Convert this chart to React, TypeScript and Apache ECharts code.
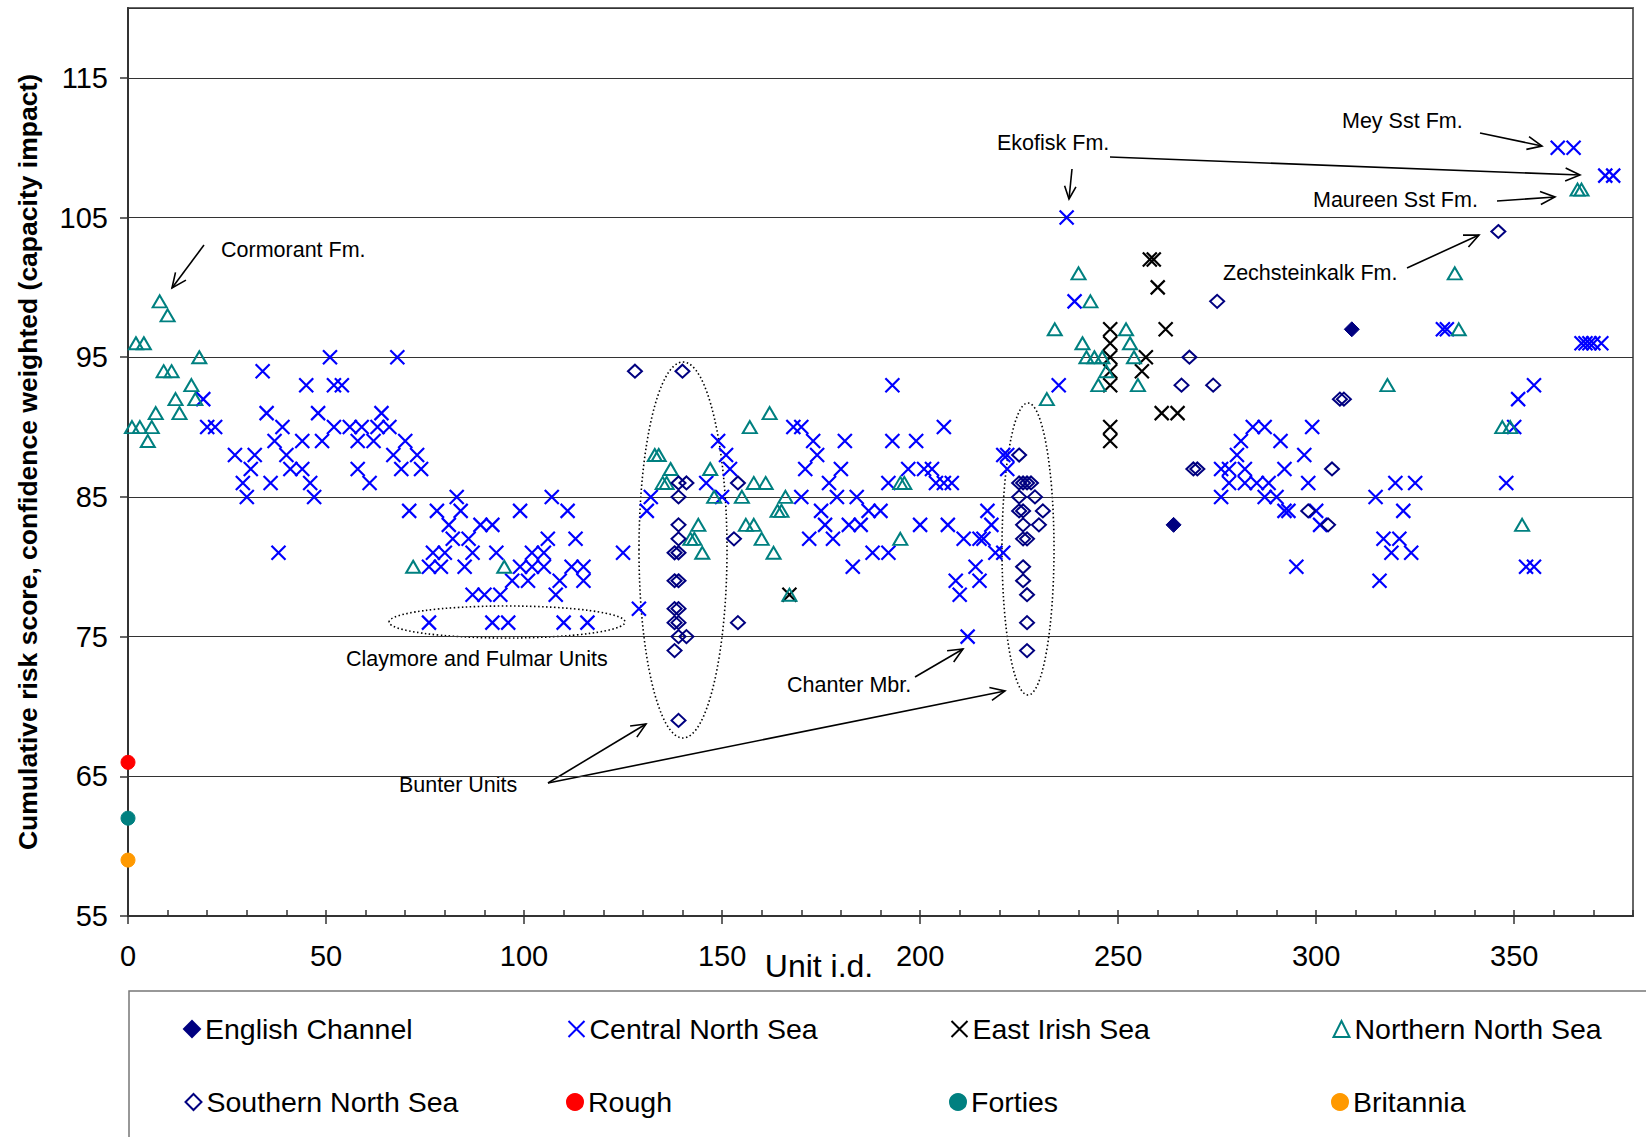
import React, { useEffect, useRef } from "react";
import * as echarts from "echarts";

const FONT = '"Liberation Sans", Arial, Helvetica, sans-serif';
const X_PATH = "path://M0,0L10,10M10,0L0,10";

// ---------- data: [unit id, cumulative risk score] ----------
const englishChannel: number[][] = [[264, 83], [309, 97]];

const centralNorthSea: number[][] = [
  [19, 92], [20, 90], [22, 90], [27, 88], [29, 86], [30, 85], [31, 87], [32, 88], [34, 94], [35, 91],
  [36, 86], [37, 89], [38, 81], [39, 90], [40, 88], [41, 87], [44, 89], [44, 87], [45, 93], [46, 86],
  [47, 85], [48, 91], [49, 89], [51, 95], [52, 93], [52, 90], [54, 93], [56, 90], [58, 89], [58, 87],
  [59, 90], [61, 86], [62, 89], [63, 90], [64, 91], [66, 90], [67, 88], [68, 95], [69, 87], [70, 89],
  [71, 84], [73, 88], [74, 87], [76, 80], [76, 76], [77, 81], [78, 84], [79, 80], [80, 81], [81, 83],
  [82, 82], [83, 85], [84, 84], [85, 80], [86, 82], [87, 81], [87, 78], [89, 83], [90, 78], [92, 83],
  [92, 76], [93, 81], [94, 78], [96, 76], [97, 79], [99, 84], [99, 80], [101, 79], [102, 81], [102, 80],
  [105, 81], [105, 80], [106, 82], [107, 85], [108, 78], [109, 79], [110, 76], [111, 84], [112, 80], [113, 82],
  [115, 80], [115, 79], [116, 76], [125, 81], [129, 77], [131, 84], [132, 85], [146, 86], [149, 89], [150, 85],
  [151, 88], [152, 87], [168, 90], [170, 90], [170, 85], [171, 87], [172, 82], [173, 89], [174, 88], [175, 84],
  [176, 83], [177, 86], [178, 82], [179, 85], [180, 87], [181, 89], [182, 83], [183, 80], [184, 85], [185, 83],
  [187, 84], [188, 81], [190, 84], [192, 86], [192, 81], [193, 93], [193, 89], [197, 87], [199, 89], [200, 83],
  [201, 87], [203, 87], [204, 86], [206, 90], [206, 86], [207, 83], [208, 86], [209, 79], [210, 78], [211, 82],
  [212, 75], [214, 80], [215, 82], [215, 79], [216, 82], [217, 84], [218, 83], [219, 81], [221, 88], [221, 81],
  [222, 88], [222, 87], [235, 93], [237, 105], [239, 99], [276, 85], [276, 87], [278, 86], [278, 87], [280, 88],
  [281, 89], [282, 87], [282, 86], [284, 90], [285, 86], [287, 90], [287, 85], [288, 86], [290, 85], [291, 89],
  [292, 87], [292, 84], [293, 84], [295, 80], [297, 88], [298, 86], [299, 90], [300, 84], [301, 83], [315, 85],
  [316, 79], [317, 82], [319, 81], [320, 86], [321, 82], [322, 84], [324, 81], [325, 86], [332, 97], [333, 97],
  [348, 86], [350, 90], [351, 92], [353, 80], [355, 80], [355, 93], [361, 110], [365, 110], [367, 96], [368, 96],
  [369, 96], [370, 96], [372, 96], [373, 108], [375, 108],
];

const eastIrishSea: number[][] = [
  [167, 78], [248, 89], [248, 90], [248, 93], [248, 94], [248, 95], [248, 96], [248, 97],
  [256, 94], [257, 95], [258, 102], [259, 102], [260, 100], [261, 91], [262, 97], [265, 91],
];

const northernNorthSea: number[][] = [
  [1, 90], [2, 96], [3, 90], [4, 96], [5, 89], [6, 90], [7, 91], [8, 99], [9, 94], [10, 98],
  [11, 94], [12, 92], [13, 91], [16, 93], [17, 92], [18, 95], [72, 80], [95, 80], [133, 88], [134, 88],
  [135, 86], [136, 86], [137, 87], [142, 82], [143, 82], [144, 83], [145, 81], [147, 87], [148, 85], [155, 85],
  [156, 83], [157, 90], [158, 86], [158, 83], [160, 82], [161, 86], [162, 91], [163, 81], [164, 84], [165, 84],
  [166, 85], [167, 78], [195, 86], [196, 86], [195, 82], [232, 92], [234, 97], [240, 101], [241, 96], [242, 95],
  [243, 99], [244, 95], [245, 93], [246, 95], [247, 94], [252, 97], [253, 96], [254, 95], [255, 93], [318, 93],
  [335, 101], [336, 97], [347, 90], [349, 90], [352, 83], [366, 107], [367, 107],
];

const southernNorthSea: number[][] = [
  [128, 94], [138, 74], [138, 76], [138, 77], [138, 79], [138, 81], [139, 69], [139, 75], [139, 76], [139, 77],
  [139, 79], [139, 81], [139, 82], [139, 83], [139, 85], [139, 86], [140, 94], [141, 75], [141, 86], [153, 82],
  [154, 76], [154, 86], [225, 84], [225, 85], [225, 86], [225, 88], [226, 79], [226, 80], [226, 82], [226, 83],
  [226, 84], [226, 86], [227, 74], [227, 76], [227, 78], [227, 82], [227, 86], [228, 86], [229, 85], [230, 83],
  [231, 84], [266, 93], [268, 95], [269, 87], [270, 87], [274, 93], [275, 99], [298, 84], [303, 83], [304, 87],
  [306, 92], [307, 92], [346, 104],
];

const rough: number[][] = [[0, 66]];
const forties: number[][] = [[0, 62]];
const britannia: number[][] = [[0, 59]];

const seriesNames = [
  "English Channel", "Central North Sea", "East Irish Sea", "Northern North Sea",
  "Southern North Sea", "Rough", "Forties", "Britannia",
];

// ---------- helpers ----------
function arrow(x1: number, y1: number, x2: number, y2: number, len = 16, ang = 0.42) {
  const a = Math.atan2(y2 - y1, x2 - x1);
  const p1 = [x2 - len * Math.cos(a - ang), y2 - len * Math.sin(a - ang)];
  const p2 = [x2 - len * Math.cos(a + ang), y2 - len * Math.sin(a + ang)];
  return [
    { type: "line", shape: { x1, y1, x2, y2 }, style: { stroke: "#000", lineWidth: 1.6 } },
    { type: "polyline", shape: { points: [p1, [x2, y2], p2] }, style: { stroke: "#000", lineWidth: 1.6, fill: "none" } },
  ];
}

function label(text: string, x: number, y: number, size = 21.5) {
  return {
    type: "text",
    x,
    y,
    style: { text, fontSize: size, fontFamily: FONT, fill: "#000", align: "left", verticalAlign: "middle" },
  };
}

function dottedEllipse(cx: number, cy: number, rx: number, ry: number) {
  return {
    type: "ellipse",
    shape: { cx, cy, rx, ry },
    style: { fill: "none", stroke: "#000", lineWidth: 1.6, lineDash: [1.5, 2.5] },
  };
}

function scatter(name: string, data: number[][], symbol: string, size: any, fill: string, stroke: string, lw: number) {
  return {
    name,
    type: "scatter",
    data,
    symbol,
    symbolSize: size,
    clip: false,
    itemStyle: { color: fill, borderColor: stroke, borderWidth: lw, opacity: 1 },
    emphasis: { disabled: true },
  };
}

export default function App() {
  const ref = useRef<HTMLDivElement>(null);

  useEffect(() => {
    const chart = echarts.init(ref.current!, null, { renderer: "svg" });

    const legendCols = [183, 566, 949, 1331];
    const legendRows = [1014, 1087];

    const option: any = {
      animation: false,
      backgroundColor: "#fff",
      grid: {
        left: 128, top: 8, right: 13, bottom: 221,
        show: true, borderColor: "#666", borderWidth: 2, backgroundColor: "transparent",
      },
      xAxis: [
        {
          type: "value", min: 0, max: 380, interval: 50, position: "bottom",
          axisLine: { show: true, lineStyle: { color: "#333", width: 2 } },
          axisTick: { show: true, inside: false, length: 8, lineStyle: { color: "#333", width: 1.5 } },
          axisLabel: { fontSize: 29, fontFamily: FONT, color: "#000", margin: 25, showMaxLabel: false },
          splitLine: { show: false },
        },
        {
          type: "value", min: 0, max: 380, interval: 10, position: "bottom",
          axisLine: { show: false },
          axisTick: { show: true, inside: true, length: 6, lineStyle: { color: "#333", width: 1.5 } },
          axisLabel: { show: false },
          splitLine: { show: false },
        },
      ],
      yAxis: {
        type: "value", min: 55, max: 120, interval: 10,
        name: "Cumulative risk score, confidence weighted (capacity impact)",
        nameLocation: "middle", nameGap: 87,
        nameTextStyle: { fontSize: 26.5, fontWeight: "bold", fontFamily: FONT, color: "#000" },
        axisLine: { show: true, lineStyle: { color: "#333", width: 2 } },
        axisTick: { show: true, length: 8, lineStyle: { color: "#333", width: 1.5 } },
        axisLabel: { fontSize: 29, fontFamily: FONT, color: "#000", margin: 20, showMaxLabel: false },
        splitLine: { show: true, lineStyle: { color: "#333", width: 1.2 } },
      },
      legend: seriesNames.map((n, i) => ({
        data: [n],
        left: legendCols[i % 4],
        top: legendRows[Math.floor(i / 4)],
        padding: 0,
        itemWidth: 16,
        itemHeight: 16,
        itemTextGap: 11,
        selectedMode: false,
        textStyle: { fontSize: 28.5, fontFamily: FONT, color: "#000", lineHeight: 30 },
      })),
      series: [
        scatter("English Channel", englishChannel, "diamond", [15, 15], "#000080", "#000080", 1),
        scatter("Central North Sea", centralNorthSea, X_PATH, 14, "none", "#0000FF", 2.2),
        scatter("East Irish Sea", eastIrishSea, X_PATH, 14, "none", "#000000", 2.2),
        scatter("Northern North Sea", northernNorthSea, "triangle", [14, 12], "none", "#008080", 2),
        scatter("Southern North Sea", southernNorthSea, "diamond", [14, 13], "none", "#000080", 2),
        scatter("Rough", rough, "circle", 14, "#FF0000", "#FF0000", 1),
        scatter("Forties", forties, "circle", 14, "#008080", "#008080", 1),
        scatter("Britannia", britannia, "circle", 14, "#FF9900", "#FF9900", 1),
      ],
      graphic: [
        {
          type: "rect",
          shape: { x: 129, y: 991, width: 1600, height: 300 },
          style: { fill: "none", stroke: "#777", lineWidth: 1.5 },
          silent: true,
        },
        {
          type: "text", x: 819, y: 966,
          style: { text: "Unit i.d.", fontSize: 32, fontFamily: FONT, fill: "#000", align: "center", verticalAlign: "middle" },
        },
        dottedEllipse(507, 622, 118, 16),
        dottedEllipse(683, 550, 44, 188),
        dottedEllipse(1028, 549, 26, 146),
        label("Cormorant Fm.", 221, 250),
        label("Ekofisk Fm.", 997, 143),
        label("Mey Sst Fm.", 1342, 121),
        label("Maureen Sst Fm.", 1313, 200),
        label("Zechsteinkalk Fm.", 1223, 273),
        label("Claymore and Fulmar Units", 346, 659),
        label("Bunter Units", 399, 785),
        label("Chanter Mbr.", 787, 685),
        ...arrow(204, 245, 172, 288),
        ...arrow(1072, 169, 1069, 199, 14),
        ...arrow(1110, 157, 1580, 175),
        ...arrow(1480, 133, 1542, 146),
        ...arrow(1497, 201, 1555, 197),
        ...arrow(1407, 268, 1479, 235),
        ...arrow(548, 783, 646, 724),
        ...arrow(548, 783, 1005, 691),
        ...arrow(915, 677, 963, 649),
      ],
    };

    chart.setOption(option);
    return () => chart.dispose();
  }, []);

  return (
    <div
      ref={ref}
      style={{ position: "absolute", left: 0, top: 0, width: 1646, height: 1137, background: "#fff" }}
    />
  );
}
